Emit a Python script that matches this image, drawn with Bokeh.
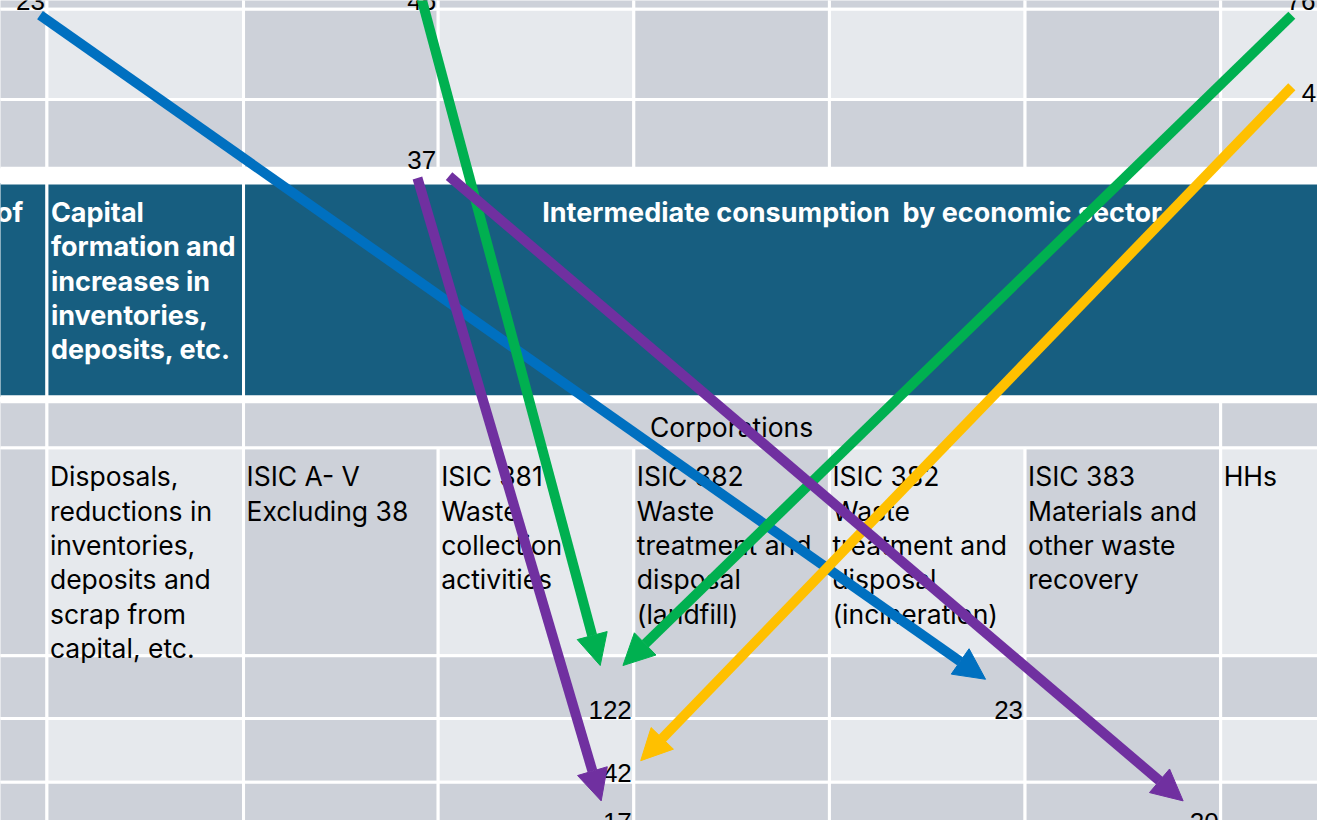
from bokeh.plotting import figure
from bokeh.models import Range1d, Arrow, NormalHead, ColumnDataSource
from bokeh.embed import file_html
from bokeh.resources import INLINE
from bokeh.core.properties import value

# ---------------- data (texts and values) ----------------
header_left = "of"
header_capital = "Capital\nformation and\nincreases in\ninventories,\ndeposits, etc."
header_intermediate = "Intermediate consumption\u00a0 by economic sector"
sector_group = "Corporations"
column_labels = [
    "Disposals,\nreductions in\ninventories,\ndeposits and\nscrap from\ncapital, etc.",
    "ISIC A- V\nExcluding 38",
    "ISIC 381\nWaste\ncollection\nactivities",
    "ISIC 382\nWaste\ntreatment and\ndisposal\n(landfill)",
    "ISIC 382\nWaste\ntreatment and\ndisposal\n(incineration)",
    "ISIC 383\nMaterials and\nother waste\nrecovery",
    "HHs",
]
source_values = ["23", "46", "76", "42", "37"]
target_values = ["122", "42", "17", "23", "20"]
flow_names = ["blue", "green", "green", "yellow", "purple", "purple"]
flow_colors = ["#0070C0", "#00B050", "#00B050", "#FFC000", "#7030A0", "#7030A0"]

# ---------------- layout ----------------
W, H = 1333, 836
GRAY, LIGHT, TEAL = "#CDD1D9", "#E6E9ED", "#175E80"
col_edges = [-60, 47, 246, 443, 641, 839, 1037, 1235, 1400]

p = figure(width=1317, height=820, x_range=Range1d(0, W), y_range=Range1d(H, 0),
           output_backend="svg", toolbar_location=None, min_border=0,
           x_axis_type=None, y_axis_type=None)
p.grid.visible = False
p.outline_line_color = None
p.background_fill_color = "white"
p.border_fill_color = "white"

cells = dict(l=[], r=[], t=[], b=[], c=[])


def add(l, r, t, b, c):
    cells["l"].append(l); cells["r"].append(r)
    cells["t"].append(t); cells["b"].append(b); cells["c"].append(c)


bands = [(-60, 9, "gray"), (9, 101, "alt"), (101, 171, "gray"),
         (456, 668, "alt"), (668, 732, "gray"), (732, 797, "alt"), (797, 900, "gray")]
for (t, b, kind) in bands:
    for i in range(8):
        c = GRAY if (kind == "gray" or i % 2 == 0) else LIGHT
        add(col_edges[i], col_edges[i + 1], t, b, c)
for (l, r) in [(-60, 47), (47, 246), (246, 1235), (1235, 1400)]:
    add(l, r, 409, 456, GRAY)
for (l, r) in [(-60, 47), (47, 246), (246, 1400)]:
    add(l, r, 186, 404, TEAL)

p.quad(left="l", right="r", top="t", bottom="b", fill_color="c",
       line_color="white", line_width=3, source=ColumnDataSource(cells))

FONT = value("Inter")
FS = value("26.5px")
FB = value("27px")

# header texts
hx, hy, ht = [23], [216], [header_left]
for k, line in enumerate(header_capital.split("\n")):
    hx.append(51); hy.append(216 + 35 * k); ht.append(line)
p.text(x=hx[:1], y=hy[:1], text=ht[:1], text_font=FONT, text_font_size=FB,
       text_font_style="bold", text_color="white", text_align="right", text_baseline="alphabetic")
p.text(x=hx[1:], y=hy[1:], text=ht[1:], text_font=FONT, text_font_size=FB,
       text_font_style="bold", text_color="white", text_align="left", text_baseline="alphabetic")
p.text(x=[862], y=[216], text=[header_intermediate], text_font=FONT, text_font_size=FB,
       text_font_style="bold", text_color="white", text_align="center", text_baseline="alphabetic")

# corporations
p.text(x=[740], y=[435], text=[sector_group], text_font=FONT, text_font_size=FS,
       text_color="black", text_align="center", text_baseline="alphabetic")

# column labels
lx, ly, lt = [], [], []
for i, lab in enumerate(column_labels):
    for k, line in enumerate(lab.split("\n")):
        lx.append(col_edges[i + 1] + 3); ly.append(485 + 35 * k); lt.append(line)
p.text(x=lx, y=ly, text=lt, text_font=FONT, text_font_size=FS,
       text_color="black", text_align="left", text_baseline="alphabetic")

# numbers
NF = value("Liberation Sans")
NS = value("26px")
src_x = [45, 441, 1331, 1317, 441]
src_y = [1, 1, 1, 94, 163]
src_align = ["right", "right", "right", "left", "right"]
for v, x, y, a in zip(source_values, src_x, src_y, src_align):
    p.text(x=[x], y=[y], text=[v], text_font=NF, text_font_size=NS,
           text_color="black", text_align=a, text_baseline="alphabetic")
tgt_x = [639, 639, 639, 1035, 1233]
tgt_y = [723, 788, 838, 723, 838]
p.text(x=tgt_x, y=tgt_y, text=target_values, text_font=NF, text_font_size=NS,
       text_color="black", text_align="right", text_baseline="alphabetic")

# arrows
arrow_start = [(40, 15), (424, -10), (1307, 15), (1307, 88), (422, 181), (454, 179)]
arrow_end = [(997, 692), (607, 678), (630, 678), (648, 775), (608, 816), (1197, 816)]
for name, col, (x0, y0), (x1, y1) in zip(flow_names, flow_colors, arrow_start, arrow_end):
    p.add_layout(Arrow(end=NormalHead(size=31, fill_color=col, line_color=col, line_width=1),
                       x_start=x0, y_start=y0, x_end=x1, y_end=y1,
                       line_color=col, line_width=10))

open("out.html", "w").write(file_html(p, INLINE))
